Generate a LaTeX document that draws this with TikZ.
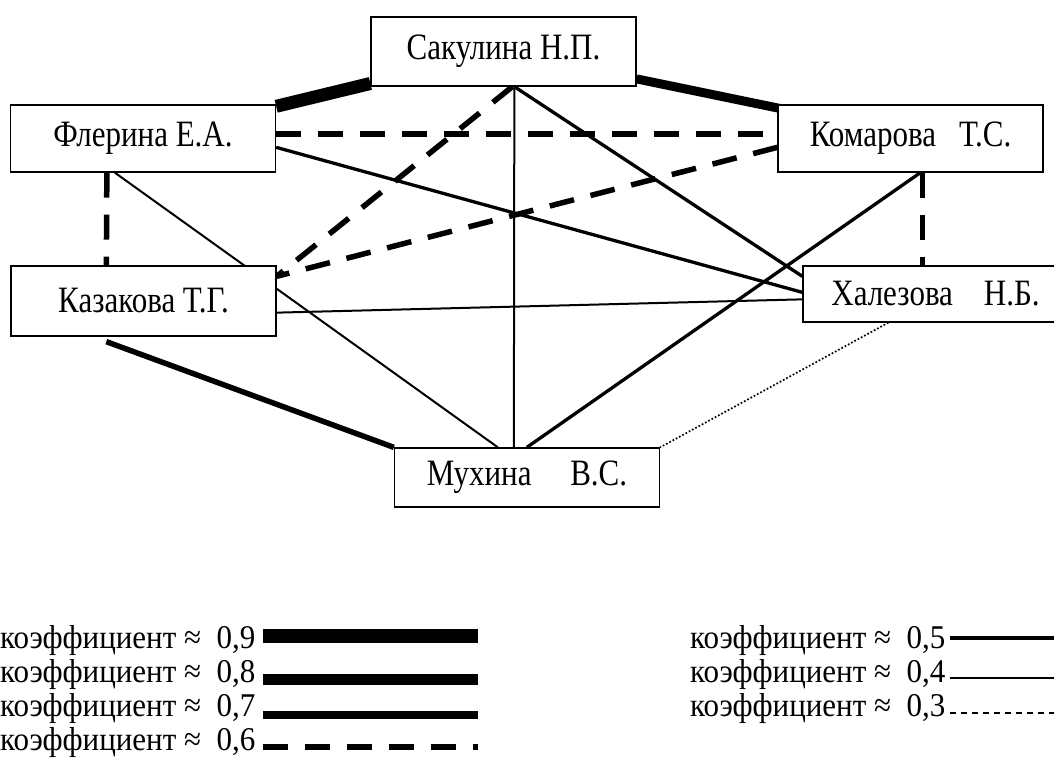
\documentclass[tikz,border=0pt]{standalone}
\usepackage{fontspec}
\setmainfont{Liberation Serif}
\usetikzlibrary{backgrounds}

\newcommand\tallt[2][1.2]{\scalebox{1}[#1]{#2}}

\tikzset{
  pers/.style={draw,line width=1.3pt,fill=white,minimum width=265pt,inner sep=0pt,
    font=\fontsize{31}{36}\selectfont},
  legtext/.style={anchor=base west,inner sep=0pt,font=\fontsize{31}{36}\selectfont},
  k9/.style={line width=13pt},
  k8/.style={line width=9pt},
  k7/.style={line width=5.5pt},
  k6/.style={line width=5.5pt,dash pattern=on 25pt off 17pt},
  k5/.style={line width=3.3pt},
  k4/.style={line width=2pt},
  k3/.style={line width=1.7pt,dash pattern=on 1.7pt off 2pt},
}

\begin{document}
\begin{tikzpicture}[x=1pt,y=-1pt]
\useasboundingbox (0,0) rectangle (1054,760);

\node[pers,minimum height=69pt] (sak)  at (503.5,51.5) {\tallt{Сакулина Н.П.}};
\node[pers,minimum height=67pt] (fler) at (143,138.5)  {\tallt{Флерина Е.А.}};
\node[pers,minimum height=67pt] (kom)  at (910.5,138.5) {\tallt{Комарова~~~Т.С.}};
\node[pers,minimum height=70pt] (kaz)  at (143.5,301)  {\tallt{Казакова Т.Г.}};
\node[pers,minimum height=56pt] (hal)  at (935.5,294)  {\tallt{Халезова~~~~Н.Б.}};
\node[pers,minimum height=59pt] (muh)  at (527,477.5)  {\tallt{Мухина~~~~~В.С.}};

\begin{pgfonlayer}{background}
\draw[k9] (fler) -- (sak);
\draw[k8] (sak) -- ([xshift=15pt]kom.center);
\draw[k6] ([yshift=4.5pt]fler.east) -- ([yshift=4.5pt]kom.west);
\draw[k6] ([xshift=97pt]fler.south west) -- ([xshift=96pt]kaz.north west);
\draw[k4] ([xshift=105pt]fler.south west) -- ([xshift=104pt]muh.north west);
\draw[k6] ([xshift=142pt]sak.south west) -- ([yshift=-11pt]kaz.north east);
\draw[k6] ([yshift=-43pt]kom.north west) -- ([yshift=-11pt]kaz.north east);
\draw[k4] ([xshift=144pt]sak.south west) -- ([xshift=120pt]muh.north west);
\draw[k5] ([xshift=144pt]sak.south west) -- ([yshift=-11pt]hal.north west);
\draw[k5] ([yshift=-43pt]fler.north east) -- ([yshift=-27pt]hal.north west);
\draw[k4] ([yshift=24pt]kaz.south east) -- ([yshift=-34pt]hal.north west);
\draw[k5] ([xshift=143pt]kom.south west) -- ([xshift=133pt]muh.north west);
\draw[k6] ([xshift=145pt]kom.south west) -- ([xshift=120pt]hal.north west);
\draw[k7] ([xshift=96pt,yshift=-5pt]kaz.south west) -- (muh.north west);
\draw[k3] ([xshift=86pt]hal.south west) -- (muh.north east);
\end{pgfonlayer}

\node[legtext] (l9) at (0,648)   {\tallt[1.07]{коэффициент ≈~~0,9}};
\node[legtext] (l8) at (0,682)   {\tallt[1.07]{коэффициент ≈~~0,8}};
\node[legtext] (l7) at (0,716)   {\tallt[1.07]{коэффициент ≈~~0,7}};
\node[legtext] (l6) at (0,750)   {\tallt[1.07]{коэффициент ≈~~0,6}};
\node[legtext] (l5) at (690,648) {\tallt[1.07]{коэффициент ≈~~0,5}};
\node[legtext] (l4) at (690,682) {\tallt[1.07]{коэффициент ≈~~0,4}};
\node[legtext] (l3) at (690,716) {\tallt[1.07]{коэффициент ≈~~0,3}};

\draw[k9,line width=14pt] ([xshift=7pt,yshift=12pt]l9.base east) -- ++(215,0);
\draw[k8,line width=11pt] ([xshift=7pt,yshift=3pt]l8.base east) -- ++(215,0);
\draw[k7,line width=7.5pt] ([xshift=7pt,yshift=1pt]l7.base east) -- ++(215,0);
\draw[k6] ([xshift=7pt,yshift=3pt]l6.base east) -- ++(215,0);
\draw[k5] ([xshift=4pt,yshift=10pt]l5.base east) -- ++(120,0);
\draw[k4] ([xshift=4pt,yshift=4pt]l4.base east) -- ++(120,0);
\draw[k3,line width=1.3pt,dash pattern=on 6pt off 5pt] ([xshift=4pt,yshift=3pt]l3.base east) -- ++(120,0);
\end{tikzpicture}
\end{document}
